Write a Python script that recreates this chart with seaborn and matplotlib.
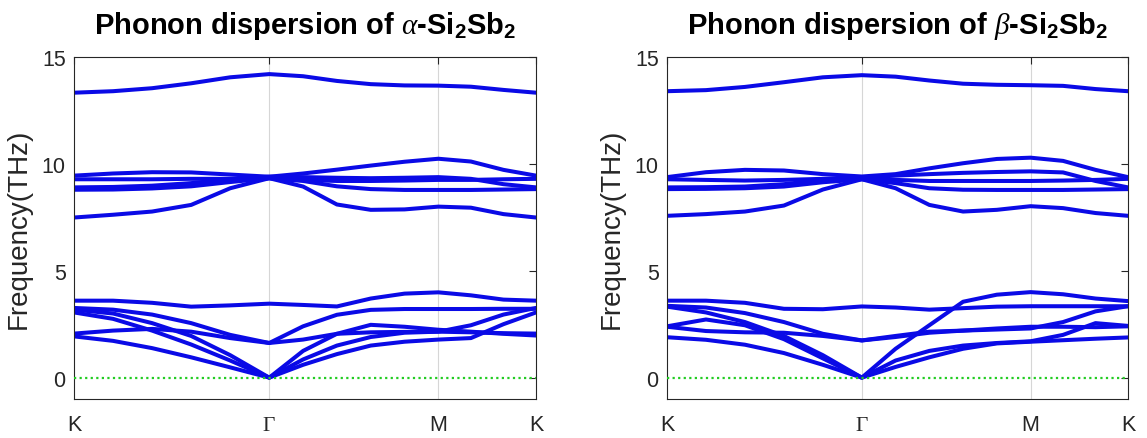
import numpy as np
import pandas as pd
import matplotlib
matplotlib.use("Agg")
import matplotlib.pyplot as plt
import seaborn as sns

# ---------------- data ----------------
# high-symmetry path K - Gamma - M - K (segment lengths in units of 2*pi/a)
seg_KG = 2.0 / 3.0
seg_GM = 1.0 / np.sqrt(3.0)
seg_MK = 1.0 / 3.0
frac_KG = [0.0, 0.2, 0.4, 0.6, 0.8, 1.0]
frac_GM = [0.2, 0.4, 0.6, 0.8, 1.0]
frac_MK = [1 / 3, 2 / 3, 1.0]
tick_labels = ["K", r"$\Gamma$", "M", "K"]

# alpha-Si2Sb2 : 12 bands, 14 k-points each (K..Gamma | ..M | ..K)
alpha_bands = [
    [3.60, 3.60, 3.50, 3.32, 3.38, 3.46, 3.40, 3.33, 3.70, 3.93, 3.99, 3.85, 3.65, 3.60],
    [3.26, 3.18, 2.95, 2.55, 2.00, 1.62, 2.40, 2.94, 3.17, 3.21, 3.21, 3.21, 3.22, 3.22],
    [2.06, 2.20, 2.28, 2.15, 1.85, 1.62, 1.78, 2.05, 2.12, 2.14, 2.15, 2.12, 2.08, 2.06],
    [3.18, 3.00, 2.55, 1.95, 1.05, 0.00, 1.25, 2.05, 2.47, 2.38, 2.24, 2.15, 2.05, 1.97],
    [3.05, 2.75, 2.20, 1.55, 0.80, 0.00, 0.85, 1.50, 1.90, 2.10, 2.15, 2.45, 2.95, 3.26],
    [1.93, 1.72, 1.38, 0.95, 0.48, 0.00, 0.60, 1.10, 1.50, 1.68, 1.78, 1.85, 2.50, 3.05],
    [7.49, 7.62, 7.77, 8.08, 8.86, 9.33, 8.94, 8.10, 7.85, 7.87, 8.00, 7.95, 7.65, 7.49],
    [8.79, 8.80, 8.85, 8.95, 9.15, 9.33, 9.20, 8.95, 8.82, 8.78, 8.78, 8.78, 8.80, 8.82],
    [8.90, 8.92, 8.98, 9.10, 9.28, 9.40, 9.38, 9.35, 9.33, 9.35, 9.38, 9.30, 9.05, 8.90],
    [9.28, 9.28, 9.28, 9.30, 9.30, 9.33, 9.25, 9.20, 9.20, 9.22, 9.25, 9.25, 9.28, 9.30],
    [9.45, 9.55, 9.61, 9.60, 9.50, 9.40, 9.55, 9.73, 9.92, 10.10, 10.24, 10.11, 9.72, 9.45],
    [13.33, 13.40, 13.54, 13.77, 14.05, 14.20, 14.10, 13.88, 13.73, 13.67, 13.66, 13.61, 13.46, 13.33],
]

# beta-Si2Sb2
beta_bands = [
    [3.60, 3.60, 3.50, 3.22, 3.20, 3.33, 3.28, 3.18, 3.25, 3.32, 3.34, 3.34, 3.34, 3.34],
    [3.36, 3.28, 3.02, 2.60, 2.05, 1.74, 1.90, 2.10, 2.20, 2.30, 2.38, 2.38, 2.36, 2.40],
    [2.38, 2.18, 2.12, 2.10, 1.95, 1.74, 1.95, 2.15, 2.20, 2.25, 2.30, 2.60, 3.10, 3.34],
    [3.32, 3.05, 2.60, 1.95, 1.05, 0.00, 1.35, 2.45, 3.55, 3.88, 4.00, 3.90, 3.70, 3.58],
    [2.40, 2.72, 2.45, 1.80, 0.90, 0.00, 0.80, 1.25, 1.50, 1.62, 1.70, 2.00, 2.55, 2.42],
    [1.89, 1.77, 1.54, 1.15, 0.60, 0.00, 0.50, 0.95, 1.35, 1.60, 1.68, 1.75, 1.82, 1.88],
    [7.57, 7.65, 7.77, 8.05, 8.80, 9.28, 8.86, 8.08, 7.77, 7.85, 8.02, 7.93, 7.70, 7.57],
    [8.82, 8.83, 8.86, 8.94, 9.14, 9.28, 9.10, 8.86, 8.79, 8.78, 8.78, 8.78, 8.80, 8.82],
    [8.90, 8.91, 8.94, 9.05, 9.25, 9.36, 9.45, 9.52, 9.58, 9.62, 9.65, 9.60, 9.20, 8.90],
    [9.28, 9.25, 9.22, 9.25, 9.30, 9.35, 9.25, 9.20, 9.20, 9.20, 9.20, 9.22, 9.25, 9.30],
    [9.38, 9.61, 9.72, 9.69, 9.52, 9.41, 9.52, 9.79, 10.03, 10.23, 10.29, 10.14, 9.72, 9.38],
    [13.40, 13.45, 13.60, 13.82, 14.05, 14.15, 14.08, 13.90, 13.75, 13.70, 13.68, 13.65, 13.50, 13.40],
]

titles = [r"Phonon dispersion of $\alpha$-Si$_\mathbf{2}$Sb$_\mathbf{2}$",
          r"Phonon dispersion of $\beta$-Si$_\mathbf{2}$Sb$_\mathbf{2}$"]

# ---------------- styling ----------------
sns.set_theme(style="white")
plt.rcParams["font.family"] = ["Liberation Sans", "DejaVu Sans"]
plt.rcParams["mathtext.fontset"] = "custom"
plt.rcParams["mathtext.rm"] = "Liberation Serif"
plt.rcParams["mathtext.it"] = "Liberation Serif:italic"
plt.rcParams["mathtext.bf"] = "Liberation Sans:bold"

BLUE = "#0a0ae6"
GREEN = "#22cc22"
AXC = "#262626"

k_G = seg_KG
k_M = seg_KG + seg_GM
k_end = seg_KG + seg_GM + seg_MK
kpts = ([seg_KG * f for f in frac_KG]
        + [k_G + seg_GM * f for f in frac_GM]
        + [k_M + seg_MK * f for f in frac_MK])


def band_frame(bands):
    rows = []
    for b, vals in enumerate(bands):
        for k, v in zip(kpts, vals):
            rows.append({"k": k, "freq": v, "band": b})
    return pd.DataFrame(rows)


fig = plt.figure(figsize=(11.47, 4.39), dpi=100)
positions = [[74 / 1147, 39 / 439, 462 / 1147, 342 / 439],
             [667 / 1147, 39 / 439, 461 / 1147, 342 / 439]]

for pos, bands, title in zip(positions, [alpha_bands, beta_bands], titles):
    ax = fig.add_axes(pos)
    for xv in [k_G, k_M]:
        ax.axvline(xv, color="#d6d6d6", lw=0.8, zorder=0)
    df = band_frame(bands)
    sns.lineplot(data=df, x="k", y="freq", units="band", estimator=None,
                 sort=False, color=BLUE, linewidth=2.9, ax=ax, legend=False,
                 solid_joinstyle="round", solid_capstyle="round")
    ax.axhline(0, color=GREEN, lw=1.6, ls=(0, (1, 1.5)), zorder=3)
    ax.set_xlim(0, k_end)
    ax.set_ylim(-1, 15)
    ax.set_xticks([0, k_G, k_M, k_end])
    ax.set_xticklabels(tick_labels)
    ax.set_yticks([0, 5, 10, 15])
    ax.set_xlabel("")
    ax.set_ylabel("Frequency(THz)", fontsize=20, color=AXC, labelpad=7)
    ax.set_title(title, fontsize=21, fontweight="bold", color="black", pad=17)
    ax.tick_params(direction="in", top=True, right=True, length=5, width=0.8,
                   colors=AXC, labelsize=15.5)
    ax.tick_params(axis="x", pad=11)
    ax.tick_params(axis="y", pad=6)
    for s in ax.spines.values():
        s.set_color(AXC)
        s.set_linewidth(0.8)

fig.savefig("out.png", dpi=100)
